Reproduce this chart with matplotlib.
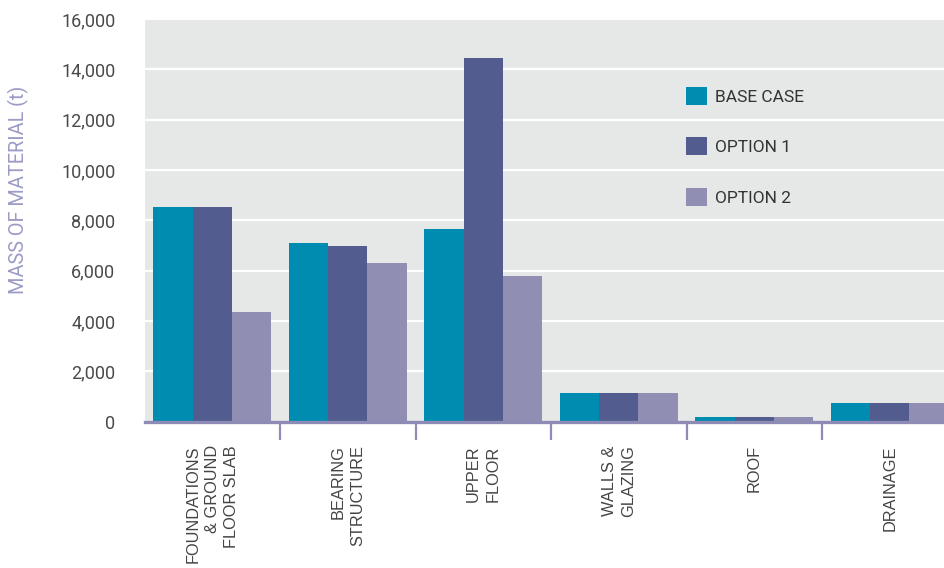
import numpy as np
import matplotlib
matplotlib.use("Agg")
import matplotlib.pyplot as plt

# data
categories = ["FOUNDATIONS\n& GROUND\nFLOOR SLAB", "BEARING\nSTRUCTURE", "UPPER\nFLOOR",
              "WALLS &\nGLAZING", "ROOF", "DRAINAGE"]
series_names = ["BASE CASE", "OPTION 1", "OPTION 2"]
base_case = [8550, 7100, 7650, 1150, 200, 750]
option_1 = [8550, 7000, 14470, 1150, 200, 750]
option_2 = [4350, 6300, 5780, 1150, 200, 750]
y_ticks = [0, 2000, 4000, 6000, 8000, 10000, 12000, 14000, 16000]

colors = ["#008bb0", "#525c8e", "#908eb2"]
axis_col = "#8e8cb6"

W, H = 944, 568
fig = plt.figure(figsize=(W / 100, H / 100), dpi=100)
ax = fig.add_axes([144.5 / W, 1 - 421.7 / H, 1 - 144.5 / W, (421.7 - 19) / H])
ax.set_facecolor("#e6e7e7")

x = np.arange(len(categories))
bw = 0.29
for i, (vals, name) in enumerate(zip([base_case, option_1, option_2], series_names)):
    ax.bar(x + (i - 1) * bw, vals, bw, color=colors[i], label=name, zorder=2, linewidth=0)

ax.set_xlim(-0.5, -0.5 + (W - 144.5) / 135.5)
ax.set_ylim(0, 16000)

# grid
ax.set_yticks(y_ticks)
ax.set_yticklabels(["{:,}".format(v) for v in y_ticks], fontsize=13, color="#4a4a4a",
                   family="Roboto")
ax.yaxis.grid(True, color="white", linewidth=1.6, zorder=1)
ax.set_axisbelow(True)
ax.tick_params(axis="y", length=0, pad=21)

for s in ["top", "right", "left"]:
    ax.spines[s].set_visible(False)
ax.spines["bottom"].set_color(axis_col)
ax.spines["bottom"].set_linewidth(2.4)
ax.spines["bottom"].set_zorder(3)

# group separators as major ticks, labels on minor ticks
ax.set_xticks(np.arange(0.5, len(categories) - 1, 1.0))
ax.set_xticklabels([])
ax.tick_params(axis="x", which="major", length=13, width=1.6, color=axis_col, direction="out")
ax.set_xticks(x, minor=True)
ax.set_xticklabels(categories, minor=True, rotation=90, ha="center", va="top",
                   multialignment="right", fontsize=11.8, color="#444444",
                   family="Liberation Sans", linespacing=1.35)
ax.tick_params(axis="x", which="minor", length=0, pad=17)

ax.set_ylabel("MASS OF MATERIAL (t)", fontsize=14.3, color="#9b9bc6", family="Roboto",
              labelpad=0)
ax.yaxis.set_label_coords(-(144.5 - 18) / (W - 144.5), (421.7 - 190) / (421.7 - 19))
ax.yaxis.label.set_va("center")

ax.legend(loc="upper left", bbox_to_anchor=(686 / W, 1 - 87 / H), bbox_transform=fig.transFigure,
          frameon=False, borderpad=0, borderaxespad=0, handlelength=1.2, handleheight=1.2,
          handletextpad=0.45, labelspacing=1.88,
          prop={"family": "Roboto", "size": 12.5}, labelcolor="#333333")

fig.savefig("out.png", dpi=100)
